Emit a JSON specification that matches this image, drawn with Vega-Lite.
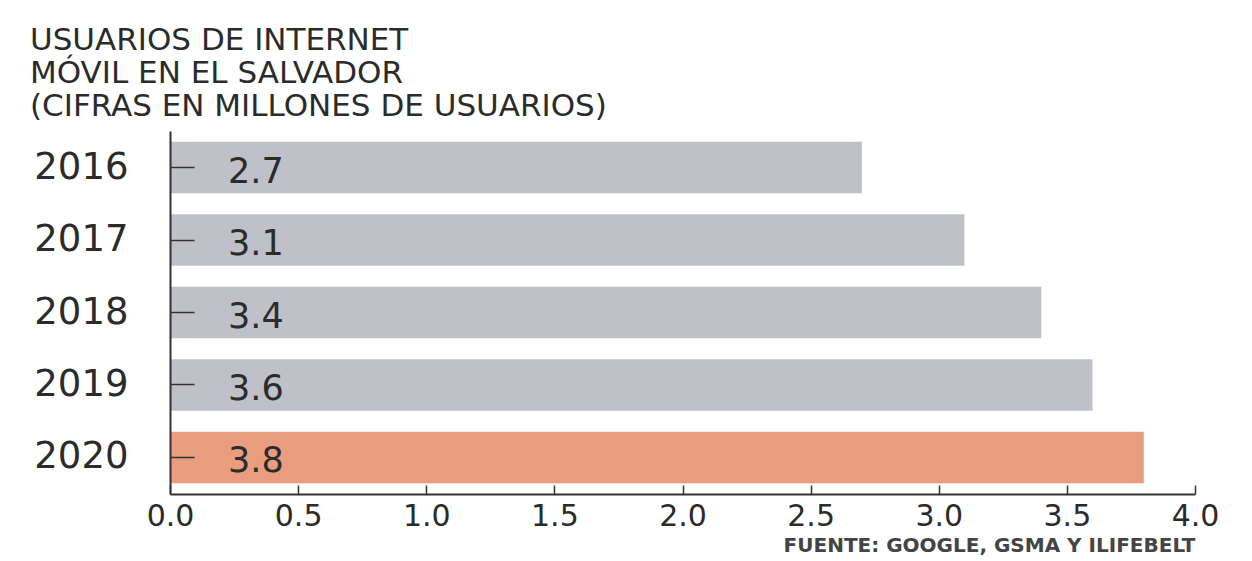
{
  "$schema": "https://vega.github.io/schema/vega-lite/v6.json",
  "width": 1025,
  "height": 363,
  "autosize": {"type": "none"},
  "padding": {"left": 170, "top": 131, "right": 57, "bottom": 67},
  "background": "white",
  "config": {"view": {"stroke": null}},
  "title": {
    "text": ["USUARIOS DE INTERNET", "MÓVIL EN EL SALVADOR", "(CIFRAS EN MILLONES DE USUARIOS)"],
    "anchor": "start",
    "frame": "group",
    "dx": -140,
    "offset": 8,
    "font": "DejaVu Sans",
    "fontSize": 31,
    "fontWeight": "normal",
    "lineHeight": 33,
    "color": "#2b2b2b"
  },
  "data": {
    "values": [
      {"year": "2016", "users": 2.7, "highlight": "no"},
      {"year": "2017", "users": 3.1, "highlight": "no"},
      {"year": "2018", "users": 3.4, "highlight": "no"},
      {"year": "2019", "users": 3.6, "highlight": "no"},
      {"year": "2020", "users": 3.8, "highlight": "yes"}
    ]
  },
  "encoding": {
    "y": {
      "field": "year",
      "type": "ordinal",
      "scale": {"paddingInner": 0.29, "paddingOuter": 0.15},
      "axis": {
        "title": null,
        "domainColor": "#333333",
        "domainWidth": 2,
        "tickColor": "#333333",
        "tickWidth": 1.5,
        "tickSize": -24,
        "labelFont": "DejaVu Sans",
        "labelFontSize": 37,
        "labelColor": "#2b2b2b",
        "labelPadding": 66,
        "labelAlign": "right",
        "zindex": 1
      }
    }
  },
  "layer": [
    {
      "mark": {"type": "bar"},
      "encoding": {
        "x": {
          "field": "users",
          "type": "quantitative",
          "scale": {"domain": [0, 4], "nice": false},
          "axis": {
            "values": [0, 0.5, 1, 1.5, 2, 2.5, 3, 3.5, 4],
            "format": ".1f",
            "grid": false,
            "labelFlush": false,
            "domainColor": "#333333",
            "domainWidth": 2,
            "tickColor": "#333333",
            "tickWidth": 1.5,
            "tickSize": -9,
            "labelFont": "DejaVu Sans",
            "labelFontSize": 30,
            "labelColor": "#2b2b2b",
            "labelPadding": 16,
            "title": "FUENTE: GOOGLE, GSMA Y ILIFEBELT",
            "titleFont": "DejaVu Sans",
            "titleFontSize": 20,
            "titleFontWeight": "bold",
            "titleColor": "#444444",
            "titleAnchor": "end",
            "titleAlign": "right",
            "titlePadding": 4,
            "zindex": 1
          }
        },
        "color": {
          "field": "highlight",
          "type": "nominal",
          "scale": {"domain": ["no", "yes"], "range": ["#c0c0c8", "#e99d7f"]},
          "legend": null
        }
      }
    },
    {
      "mark": {"type": "text", "align": "left", "baseline": "middle", "dx": 58, "dy": 4, "font": "DejaVu Sans", "fontSize": 35, "color": "#2b2b2b"},
      "encoding": {
        "x": {"datum": 0, "type": "quantitative"},
        "text": {"field": "users", "type": "quantitative", "format": ".1f"}
      }
    }
  ]
}
